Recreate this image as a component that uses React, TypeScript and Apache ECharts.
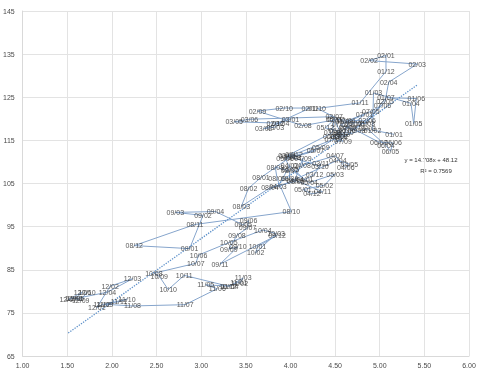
import React, { useEffect, useRef } from "react";
import * as echarts from "echarts";

// US 10-year yield (x), month-end, Jan 2001 onward
const yieldX = [
  5.16, 4.92, 4.93, 5.35, 5.38, 5.41, 5.07, 4.85, 4.6, 4.3, 4.78, 5.07,
  5.07, 4.88, 5.42, 5.1, 5.06, 4.86, 4.51, 4.14, 3.63, 3.93, 4.22, 3.83,
  4.0, 3.7, 3.83, 3.89, 3.37, 3.54, 4.49, 4.47, 3.96, 4.33, 4.34, 4.27,
  4.16, 3.99, 3.86, 4.53, 4.66, 4.62, 4.5, 4.13, 4.14, 4.05, 4.36, 4.24,
  4.14, 4.38, 4.5, 4.21, 4.0, 3.94, 4.28, 4.02, 4.34, 4.57, 4.49, 4.39,
  4.53, 4.55, 4.86, 5.07, 5.12, 5.15, 4.99, 4.74, 4.64, 4.61, 4.46, 4.71,
  4.83, 4.56, 4.65, 4.63, 4.9, 5.03, 4.78, 4.54, 4.59, 4.48, 3.97, 4.04,
  3.67, 3.53, 3.45, 3.77, 4.06, 3.99, 3.99, 3.83, 3.85, 4.01, 2.93, 2.25,
  2.87, 3.02, 2.71, 3.16, 3.47, 3.53, 3.52, 3.4, 3.31, 3.41, 3.21, 3.85,
  3.63, 3.61, 3.84, 3.69, 3.31, 2.97, 2.94, 2.47, 2.53, 2.63, 2.81, 3.3,
  3.42, 3.43, 3.47, 3.32, 3.05, 3.18, 2.82, 2.23, 1.92, 2.17, 2.08, 1.89,
  1.83, 1.98, 2.23, 1.95, 1.59, 1.67, 1.51, 1.57, 1.65, 1.72,
];

// USD/JPY (y), month-end
const usdJpy = [
  116.4, 117.4, 126.0, 123.6, 118.9, 124.7, 124.9, 118.9, 119.3, 122.4, 123.7, 131.0,
  134.7, 133.5, 132.7, 128.5, 124.0, 119.5, 119.8, 118.4, 121.8, 122.5, 122.5, 118.8,
  119.9, 117.7, 118.1, 119.0, 119.3, 119.9, 120.5, 116.8, 111.4, 109.0, 109.6, 107.1,
  105.9, 109.1, 104.2, 110.4, 109.5, 108.7, 111.4, 109.2, 110.9, 105.8, 103.1, 102.6,
  103.6, 104.6, 107.2, 105.2, 108.3, 110.9, 112.6, 111.0, 113.4, 116.4, 119.8, 117.9,
  117.2, 115.8, 117.7, 113.8, 112.5, 114.4, 114.6, 117.3, 118.1, 116.9, 115.8, 119.0,
  121.0, 118.6, 117.8, 119.5, 121.7, 123.2, 118.6, 115.8, 114.8, 115.2, 111.2, 111.7,
  106.4, 103.9, 99.7, 104.0, 105.5, 106.2, 107.9, 108.8, 106.1, 98.5, 95.5, 90.6,
  89.9, 97.6, 98.3, 98.5, 95.4, 96.4, 94.7, 93.0, 89.8, 90.3, 86.3, 93.0,
  90.3, 88.9, 93.4, 94.2, 91.3, 88.4, 86.5, 84.2, 83.5, 80.4, 83.7, 81.2,
  82.1, 81.8, 83.1, 81.2, 81.5, 80.6, 76.9, 76.6, 77.0, 78.2, 77.6, 76.9,
  76.2, 81.2, 82.9, 79.8, 78.3, 79.8, 78.1, 78.4, 77.9, 79.8,
];

const startYear = 1; // "01" = 2001
const raisedLabels = ["02/01"];
const trendSlope = 14.708;
const trendIntercept = 48.12;
const trendText = "y = 14.708x + 48.12";
const r2Text = "R\u00B2 = 0.7569";

const xTicks = { min: 1, max: 6, interval: 0.5 };
const yTicks = { min: 65, max: 145, interval: 10 };

function pad(n: number) {
  return n < 10 ? "0" + n : String(n);
}

export default function App() {
  const ref = useRef<HTMLDivElement>(null);
  useEffect(() => {
    document.body.style.margin = "0";
    if (!ref.current) return;
    const chart = echarts.init(ref.current, null, { renderer: "svg" });
    const labels = yieldX.map((_, i) => pad(startYear + Math.floor(i / 12)) + "/" + pad((i % 12) + 1));
    const pts = yieldX.map((x, i) => [x, usdJpy[i]]);
    const minX = Math.min(...yieldX);
    const maxX = Math.max(...yieldX);
    const trend = [
      [minX, trendSlope * minX + trendIntercept],
      [maxX, trendSlope * maxX + trendIntercept],
    ];
    const font = "Liberation Sans";
    chart.setOption({
      animation: false,
      grid: { left: 22, right: 11, top: 11, bottom: 16, containLabel: false },
      xAxis: {
        type: "value",
        min: xTicks.min,
        max: xTicks.max,
        interval: xTicks.interval,
        axisLine: { show: true, lineStyle: { color: "#d9d9d9" } },
        axisTick: { show: false },
        splitLine: { show: true, lineStyle: { color: "#e3e3e3" } },
        axisLabel: {
          formatter: (v: number) => v.toFixed(2),
          color: "#4a4a4a",
          fontSize: 7,
          fontFamily: font,
          margin: 6,
        },
      },
      yAxis: {
        type: "value",
        min: yTicks.min,
        max: yTicks.max,
        interval: yTicks.interval,
        axisLine: { show: true, lineStyle: { color: "#d9d9d9" } },
        axisTick: { show: false },
        splitLine: { show: true, lineStyle: { color: "#e3e3e3" } },
        axisLabel: { color: "#4a4a4a", fontSize: 7, fontFamily: font, margin: 8 },
      },
      series: [
        {
          type: "line",
          data: pts,
          symbol: "none",
          lineStyle: { color: "#86a5cc", width: 1 },
          z: 2,
        },
        {
          type: "line",
          data: trend,
          symbol: "none",
          lineStyle: { color: "#5b8fc9", width: 1.3, type: [1.3, 1.3] },
          z: 3,
        },
        {
          type: "scatter",
          data: pts.map((p, i) => ({
            value: p,
            name: labels[i],
            label: raisedLabels.includes(labels[i]) ? { offset: [0, -9] } : undefined,
          })),
          symbolSize: 1,
          itemStyle: { color: "rgba(0,0,0,0)" },
          label: {
            show: true,
            position: "inside",
            formatter: "{b}",
            color: "#2e2e2e",
            textBorderWidth: 0,
            textBorderColor: "transparent",
            fontSize: 7,
            fontFamily: font,
          },
          labelLayout: { hideOverlap: false },
          z: 4,
        },
      ],
      graphic: [
        {
          type: "text",
          x: 431,
          y: 160,
          style: {
            text: trendText,
            fill: "#333333",
            fontSize: 6,
            fontFamily: font,
            textAlign: "center",
            textVerticalAlign: "middle",
          },
        },
        {
          type: "text",
          x: 436,
          y: 171,
          style: {
            text: r2Text,
            fill: "#333333",
            fontSize: 6,
            fontFamily: font,
            textAlign: "center",
            textVerticalAlign: "middle",
          },
        },
      ],
    });
    return () => chart.dispose();
  }, []);
  return (
    <div
      ref={ref}
      style={{ width: 480, height: 372, willChange: "transform", transform: "translateZ(0)" }}
    />
  );
}
